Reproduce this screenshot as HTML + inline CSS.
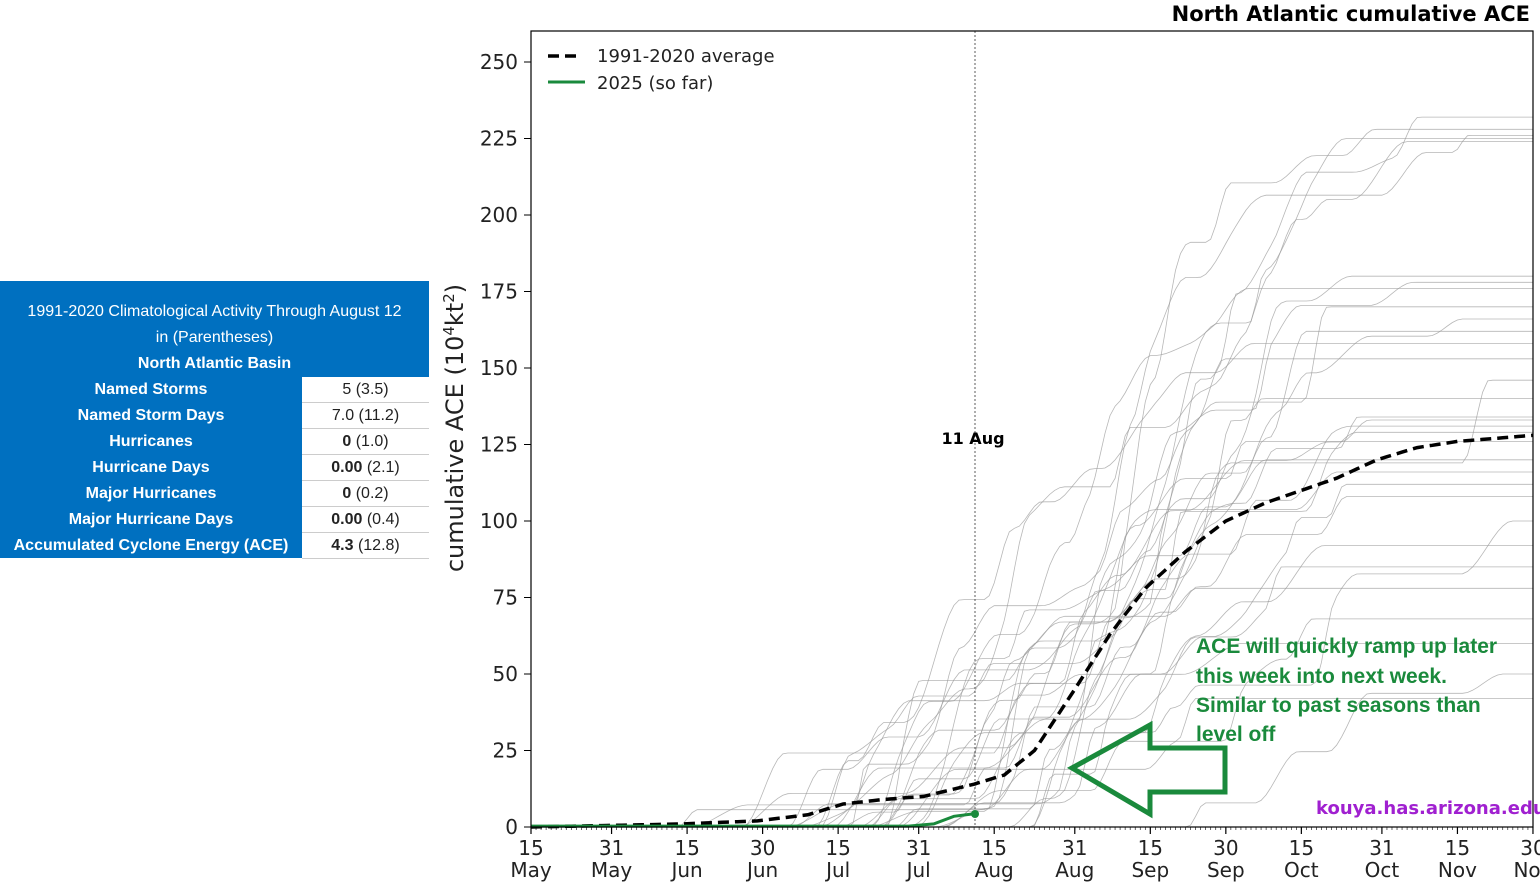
<!DOCTYPE html>
<html><head><meta charset="utf-8">
<style>
body{margin:0;background:#fff;width:1540px;height:885px;overflow:hidden;position:relative;font-family:"DejaVu Sans","Liberation Sans",sans-serif}
#tbl{position:absolute;left:0;top:281px;width:429px;height:277px;background:#0070c0;color:#fff;font-family:"Liberation Sans",sans-serif}
.h{position:absolute;left:0;width:429px;text-align:center;font-size:16px}
.r{position:absolute;left:0;width:429px;height:26px}
.r .l{position:absolute;left:0;width:302px;text-align:center;font-weight:bold;font-size:16px;line-height:26px}
.r .v{position:absolute;left:302px;width:127px;height:25px;background:#fff;color:#222;text-align:center;font-size:16px;line-height:26px;border-bottom:1px solid #ccc}
</style></head><body>
<div id="tbl">
<div class="h" style="top:22px">1991-2020 Climatological Activity Through August 12</div>
<div class="h" style="top:48px">in (Parentheses)</div>
<div class="h" style="top:74px;font-weight:bold;width:429px">North Atlantic Basin</div>
<div class="r" style="top:96px"><div class="l">Named Storms</div><div class="v">5 (3.5)</div></div>
<div class="r" style="top:122px"><div class="l">Named Storm Days</div><div class="v">7.0 (11.2)</div></div>
<div class="r" style="top:148px"><div class="l">Hurricanes</div><div class="v"><b>0</b> (1.0)</div></div>
<div class="r" style="top:174px"><div class="l">Hurricane Days</div><div class="v"><b>0.00</b> (2.1)</div></div>
<div class="r" style="top:200px"><div class="l">Major Hurricanes</div><div class="v"><b>0</b> (0.2)</div></div>
<div class="r" style="top:226px"><div class="l">Major Hurricane Days</div><div class="v"><b>0.00</b> (0.4)</div></div>
<div class="r" style="top:252px"><div class="l">Accumulated Cyclone Energy (ACE)</div><div class="v"><b>4.3</b> (12.8)</div></div>
</div>
<svg id="s" width="1540" height="885" style="position:absolute;left:0;top:0" xmlns="http://www.w3.org/2000/svg">
<g id="gray" fill="none" stroke="#999" stroke-width="0.8" stroke-opacity="0.7"></g>
<line x1="975" y1="31" x2="975" y2="827" stroke="#333" stroke-width="0.8" stroke-dasharray="2,2"/>
<text x="973" y="444" font-size="16" font-weight="bold" text-anchor="middle" fill="#000">11 Aug</text>
<path id="avg" fill="none" stroke="#000" stroke-width="3.5" stroke-dasharray="11,6"/>
<path id="g25" fill="none" stroke="#1a8a3c" stroke-width="3"/>
<circle cx="975" cy="814" r="4" fill="#1a8a3c"/>
<rect x="531" y="31" width="1002" height="796" fill="none" stroke="#000" stroke-width="1.2"/>
<g id="ticks" stroke="#000"></g>
<g id="labs" font-size="20" fill="#222"></g>
<text x="1530" y="21" font-size="21" font-weight="bold" text-anchor="end" fill="#000">North Atlantic cumulative ACE</text>
<text transform="translate(463,428) rotate(-90)" font-size="24" text-anchor="middle" fill="#222">cumulative ACE (10<tspan dy="-9" font-size="15">4</tspan><tspan dy="9">kt</tspan><tspan dy="-9" font-size="15">2</tspan><tspan dy="9">)</tspan></text>
<line x1="548" y1="56" x2="582" y2="56" stroke="#000" stroke-width="3.5" stroke-dasharray="11,6"/>
<text x="597" y="62" font-size="18" fill="#222">1991-2020 average</text>
<line x1="548" y1="82" x2="585" y2="82" stroke="#1a8a3c" stroke-width="3"/>
<text x="597" y="89" font-size="18" fill="#222">2025 (so far)</text>
<polygon points="1072,768 1150,725 1150,748 1225,748 1225,792 1150,792 1150,814" fill="none" stroke="#1a8a3c" stroke-width="5"/>
<g font-family="Liberation Sans,sans-serif" font-weight="bold" font-size="21" fill="#1a8a3c">
<text x="1196" y="653">ACE will quickly ramp up later</text>
<text x="1196" y="683">this week into next week.</text>
<text x="1196" y="712">Similar to past seasons than</text>
<text x="1196" y="741">level off</text>
</g>
<text x="1316" y="814" font-size="18" font-weight="bold" fill="#a020d0">kouya.has.arizona.edu</text>
</svg>
<script>
var X=d=>531+d*5.035, Y=v=>827-v*3.06, ns="http://www.w3.org/2000/svg";
function pth(pts){return pts.map((p,i)=>(i?'L':'M')+X(p[0]).toFixed(1)+','+Y(p[1]).toFixed(1)).join('');}
var avg=[[0,0],[30,1],[45,2],[55,4],[62,7.5],[70,9],[78,10],[88,14],[94,17],[100,25],[108,45],[115,63],[122,78],[130,90],[138,100],[146,106],[153,110],[160,114],[168,120],[176,124],[184,126],[199,128]];
var ap=[];for(var d=0;d<=199;d++){var i=0;while(i<avg.length-2&&avg[i+1][0]<d)i++;var a=avg[i],b=avg[i+1];ap.push([d,a[1]+(b[1]-a[1])*(d-a[0])/(b[0]-a[0])]);}
document.getElementById('avg').setAttribute('d',pth(ap));
document.getElementById('g25').setAttribute('d',pth([[0,0.3],[75,0.3],[80,1],[84,3.5],[88,4.3]]));
var seed=11;function r(){seed=(seed*16807)%2147483647;return seed/2147483647;}
function nrm(){return (r()+r()+r()+r()-2)*1.7;}
var finals=[232,228,226,225,224,180,178,176,170,166,162,158,153,146,140,134,133,131,129,126,120,116,112,108,100,92,85,78,68,60,50,42];
var g=document.getElementById('gray');
finals.forEach(F=>{var n=Math.max(3,Math.round(F/14));var ev=[];var tot=0;for(var k=0;k<n;k++){var s=Math.max(20,Math.min(185,112+nrm()*30));var w=r()+0.3;ev.push([s,w,3+r()*9]);tot+=w;}
var pts=[];for(var d=0;d<=199;d++){var v=0;ev.forEach(e=>{var t=(d-e[0])/e[2];t=Math.max(0,Math.min(1,t));t=t*t*(3-2*t);v+=F*e[1]/tot*t;});pts.push([d,v]);}
var p=document.createElementNS(ns,'path');p.setAttribute('d',pth(pts));g.appendChild(p);});
var tk=document.getElementById('ticks'),lb=document.getElementById('labs');
function ln(x1,y1,x2,y2,w){var l=document.createElementNS(ns,'line');l.setAttribute('x1',x1);l.setAttribute('y1',y1);l.setAttribute('x2',x2);l.setAttribute('y2',y2);l.setAttribute('stroke-width',w);tk.appendChild(l);}
function tx(x,y,s,anc){var t=document.createElementNS(ns,'text');t.setAttribute('x',x);t.setAttribute('y',y);t.setAttribute('text-anchor',anc);t.textContent=s;lb.appendChild(t);}
for(var v=0;v<=250;v+=25){ln(524,Y(v),531,Y(v),1);tx(518,Y(v)+7,v,'end');}
for(var d=0;d<=199;d++)ln(X(d),827,X(d),830,0.6);
var xt=[[0,'15','May'],[16,'31','May'],[31,'15','Jun'],[46,'30','Jun'],[61,'15','Jul'],[77,'31','Jul'],[92,'15','Aug'],[108,'31','Aug'],[123,'15','Sep'],[138,'30','Sep'],[153,'15','Oct'],[169,'31','Oct'],[184,'15','Nov'],[199,'30','Nov']];
xt.forEach(t=>{ln(X(t[0]),827,X(t[0]),834,1.2);tx(X(t[0]),855,t[1],'middle');tx(X(t[0]),877,t[2],'middle');});
</script>
</body></html>
